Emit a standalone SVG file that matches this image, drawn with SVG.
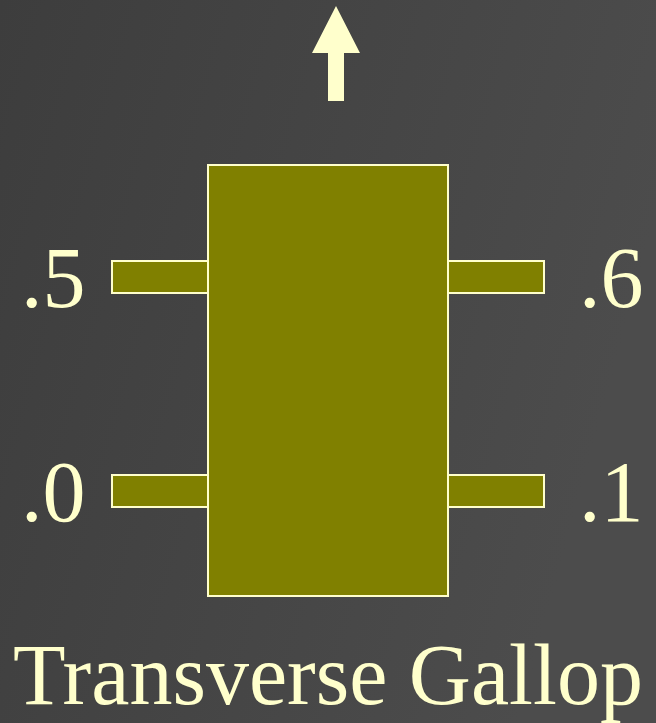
<svg xmlns="http://www.w3.org/2000/svg" width="656" height="723" viewBox="0 0 656 723">
<defs>
<linearGradient id="bg" x1="0" y1="0" x2="1" y2="0.3">
<stop offset="0" stop-color="#3d3d3d"/>
<stop offset="1" stop-color="#4c4c4c"/>
</linearGradient>
<style>
.part{fill:#808000;stroke:#ffffcc;stroke-width:2}
.lbl{font-family:"Liberation Serif","Times New Roman",serif;font-size:86px;fill:#ffffcc}
</style>
</defs>
<rect width="656" height="723" fill="url(#bg)"/>
<g id="connectors">
<path id="arrow" d="M336,6 L360,53 L344,53 L344,101 L328,101 L328,53 L312,53 Z" fill="#ffffcc"/>
</g>
<g id="leg-left-top"><rect class="part" x="112" y="261" width="96" height="32"/></g>
<g id="leg-left-bottom"><rect class="part" x="112" y="475" width="96" height="32"/></g>
<g id="leg-right-top"><rect class="part" x="448" y="261" width="96" height="32"/></g>
<g id="leg-right-bottom"><rect class="part" x="448" y="475" width="96" height="32"/></g>
<g id="body"><rect class="part" x="208" y="165" width="240" height="431"/></g>
<g id="labels">
<text class="lbl" x="21" y="307">.5</text>
<text class="lbl" x="579" y="307">.6</text>
<text class="lbl" x="21" y="521">.0</text>
<text class="lbl" x="579" y="521">.1</text>
<text class="lbl" x="328" y="704" text-anchor="middle">Transverse Gallop</text>
</g>
</svg>
